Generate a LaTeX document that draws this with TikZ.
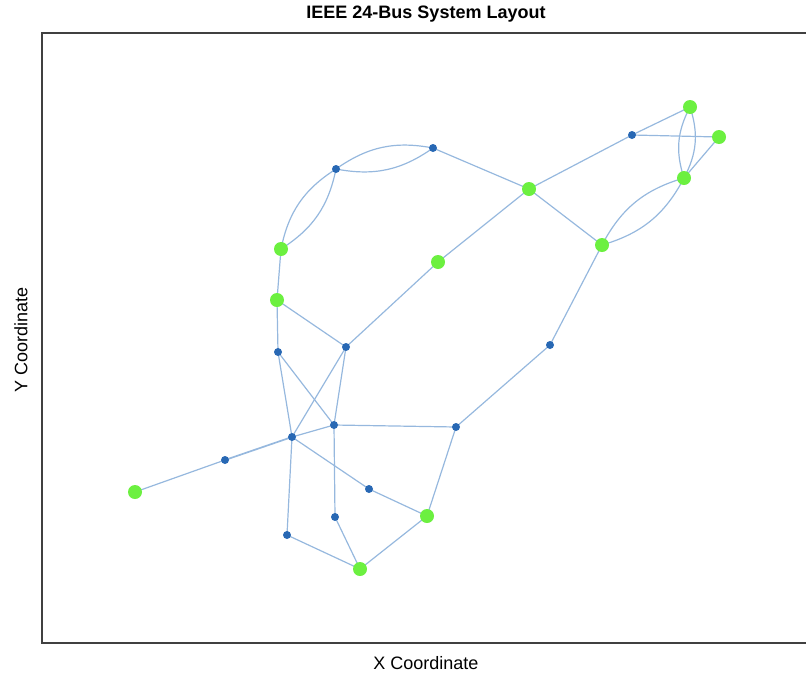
\documentclass[tikz,border=0pt]{standalone}
\usepackage{fontspec}
\setmainfont{Liberation Sans}
\definecolor{gen}{RGB}{108,240,64}
\definecolor{bus}{RGB}{40,104,180}
\definecolor{edge}{RGB}{150,184,222}
\begin{document}
\begin{tikzpicture}[x=1pt,y=-1pt,
  gennode/.style={circle,fill=gen,inner sep=0pt,minimum size=14pt},
  busnode/.style={circle,fill=bus,inner sep=0pt,minimum size=8pt},
  ln/.style={draw=edge,line width=1.2pt},
  lab/.style={font=\fontsize{18}{20}\selectfont}]
\useasboundingbox (0,0) rectangle (806,675);
\begin{scope}
\clip (0,0) rectangle (806,675);
\draw[line width=1.2pt,black!75] (806,33) -- (42,33) -- (42,643) -- (806,643);
\end{scope}
\node[font=\fontsize{18}{20}\selectfont\bfseries] (title) at (426,14) {IEEE 24-Bus System Layout};
\node[lab] (xl) at (426,663) {X Coordinate};
\node[lab,rotate=90] (yl) at (21,340) {Y Coordinate};
% generator buses
\coordinate (g1) at (690,107);
\coordinate (g2) at (719,137);
\coordinate (g3) at (684,178);
\coordinate (g4) at (529,189);
\coordinate (g5) at (602,245);
\coordinate (g6) at (438,262);
\coordinate (g7) at (281,249);
\coordinate (g8) at (277,300);
\coordinate (g9) at (135,492);
\coordinate (g10) at (427,516);
\coordinate (g11) at (360,569);
% load buses
\coordinate (b1) at (632,135);
\coordinate (b2) at (433,148);
\coordinate (b3) at (336,169);
\coordinate (b4) at (278,352);
\coordinate (b5) at (346,347);
\coordinate (b6) at (550,345);
\coordinate (b7) at (334,425);
\coordinate (b8) at (456,427);
\coordinate (b9) at (292,437);
\coordinate (b10) at (225,460);
\coordinate (b11) at (369,489);
\coordinate (b12) at (335,517);
\coordinate (b13) at (287,535);
% edges
\path[ln] (b1) -- (g1);
\path[ln] (b1) -- (g2);
\path[ln] (b1) -- (g4);
\path[ln] (g1) to[bend left=23] (g3);
\path[ln] (g1) to[bend right=23] (g3);
\path[ln] (g2) -- (g3);
\path[ln] (g3) to[bend left=23] (g5);
\path[ln] (g3) to[bend right=23] (g5);
\path[ln] (g4) -- (g5);
\path[ln] (g4) -- (b2);
\path[ln] (g4) -- (g6);
\path[ln] (g6) -- (b5);
\path[ln] (g5) -- (b6);
\path[ln] (b6) -- (b8);
\path[ln] (b2) to[bend left=23] (b3);
\path[ln] (b2) to[bend right=23] (b3);
\path[ln] (b3) to[bend left=23] (g7);
\path[ln] (b3) to[bend right=23] (g7);
\path[ln] (g7) -- (g8);
\path[ln] (g8) -- (b4);
\path[ln] (g8) -- (b5);
\path[ln] (b4) -- (b9);
\path[ln] (b4) -- (b7);
\path[ln] (b5) -- (b9);
\path[ln] (b5) -- (b7);
\path[ln] (b7) -- (b8);
\path[ln] (b7) -- (b9);
\path[ln] (b7) -- (b12);
\path[ln,line width=1.7pt] (b9) -- (b10);
\path[ln] (b10) -- (g9);
\path[ln] (b9) -- (b11);
\path[ln] (b9) -- (b13);
\path[ln] (b11) -- (g10);
\path[ln] (b8) -- (g10);
\path[ln] (g10) -- (g11);
\path[ln] (b12) -- (g11);
\path[ln] (b13) -- (g11);
% nodes on top
\foreach \n in {g1,g2,g3,g4,g5,g6,g7,g8,g9,g10,g11}
  \node[gennode] (N\n) at (\n) {};
\foreach \n in {b1,b2,b3,b4,b5,b6,b7,b8,b9,b10,b11,b12,b13}
  \node[busnode] (N\n) at (\n) {};
\end{tikzpicture}
\end{document}
